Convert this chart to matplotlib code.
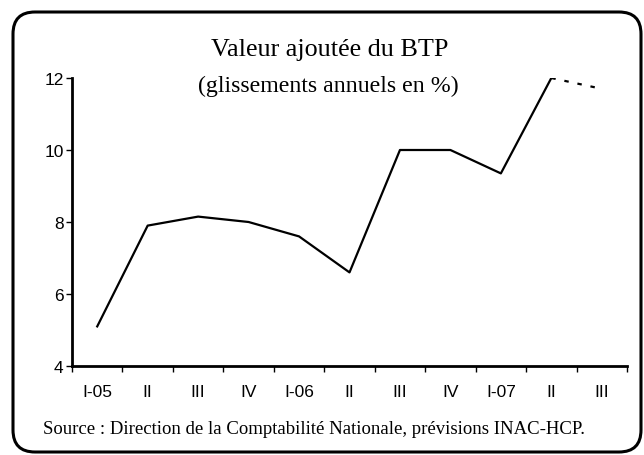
import matplotlib.pyplot as plt
from matplotlib.patches import FancyBboxPatch

# quarters and annual growth (%)
categories = ["I-05", "II", "III", "IV", "I-06", "II", "III", "IV", "I-07", "II", "III"]
values = [5.1, 7.9, 8.15, 8.0, 7.6, 6.6, 10.0, 10.0, 9.35, 12.0, None]
forecast = [None, None, None, None, None, None, None, None, None, 12.0, 11.7]
y_ticks = [4, 6, 8, 10, 12]

plt.rcParams["font.family"] = "Liberation Sans"

fig = plt.figure(figsize=(6.44, 4.56), dpi=100)
ax = fig.add_axes([72 / 644, 1 - 367 / 456, (627 - 72) / 644, (367 - 79) / 456])

x = [i + 0.5 for i in range(len(categories))]
xs = [xi for xi, v in zip(x, values) if v is not None]
vs = [v for v in values if v is not None]
ax.plot(xs, vs, color="black", lw=1.6)
xf = [xi for xi, v in zip(x, forecast) if v is not None]
vf = [v for v in forecast if v is not None]
ax.plot(xf, vf, color="black", lw=1.6, linestyle=(0, (2, 4)))

ax.set_xlim(0, len(categories))
ax.set_ylim(4, 12)
ax.set_yticks(y_ticks)
ax.set_xticks(range(len(categories) + 1))
ax.set_xticklabels([])
ax.set_xticks(x, minor=True)
ax.set_xticklabels(categories, minor=True)
ax.tick_params(axis="x", which="minor", length=0, pad=13, labelsize=12.5)
ax.tick_params(axis="x", which="major", length=4, width=1, direction="out")
ax.tick_params(axis="y", length=4, width=1, direction="out", pad=2, labelsize=12.5)

ax.spines["top"].set_visible(False)
ax.spines["right"].set_visible(False)
ax.spines["left"].set_linewidth(2)
ax.spines["bottom"].set_linewidth(2)

# rounded frame around the whole chart (pixel coordinates)
frame = FancyBboxPatch((13, 3), 628, 440,
                       boxstyle="round,pad=0,rounding_size=22",
                       transform=None, fill=False,
                       edgecolor="black", lw=2.2)
fig.patches.append(frame)

fig.text(330 / 644, 1 - 56 / 456, "Valeur ajoutée du BTP", ha="center", va="baseline",
         family="Liberation Serif", fontsize=18.8)
fig.text(328 / 644, 1 - 92 / 456, "(glissements annuels en %)", ha="center", va="baseline",
         family="Liberation Serif", fontsize=17.2)
fig.text(43 / 644, 1 - 434 / 456,
         "Source : Direction de la Comptabilité Nationale, prévisions INAC-HCP.",
         ha="left", va="baseline", family="Liberation Serif", fontsize=13.5)

fig.savefig("out.png", dpi=100)
